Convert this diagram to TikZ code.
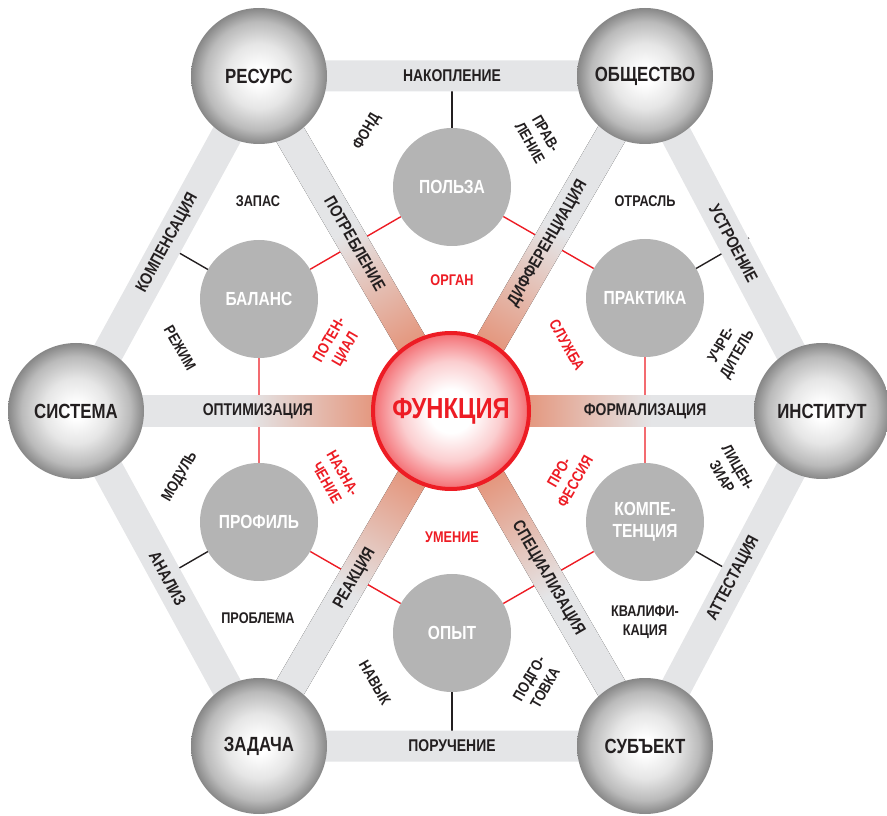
\documentclass[tikz,border=0pt]{standalone}
\usepackage{fontspec}
\setmainfont{Liberation Sans}[FakeStretch=0.82]
\usetikzlibrary{calc}
\definecolor{ink}{RGB}{35,31,32}
\definecolor{fred}{RGB}{237,28,36}
\definecolor{bandgrey}{RGB}{228,229,231}
\definecolor{bandred}{RGB}{228,150,125}
\definecolor{innergrey}{RGB}{180,180,180}
\pgfdeclareradialshading{sphere}{\pgfpoint{0bp}{0bp}}{color(0bp)=(white); color(3bp)=(white);
  color(12bp)=(black!10); color(20bp)=(black!27); color(25bp)=(black!47); color(50bp)=(black!47)}
\pgfdeclareradialshading{redglow}{\pgfpoint{0bp}{0bp}}{color(0bp)=(white); color(7bp)=(white);
  color(16bp)=(fred!22); color(22bp)=(fred!50); color(25bp)=(fred!65); color(50bp)=(fred!65)}
\pgfdeclarehorizontalshading{spoke}{100bp}{color(0bp)=(bandred); color(35bp)=(bandred);
  color(52bp)=(bandgrey); color(100bp)=(bandgrey)}
\pgfdeclarelayer{lines}
\pgfdeclarelayer{bands}
\pgfsetlayers{lines,bands,main}

\begin{document}
\begin{tikzpicture}[x=1pt,y=1pt,
  big/.style={circle,inner sep=0pt,minimum size=136pt,shading=sphere,text=ink,
              font=\bfseries\fontsize{20.5}{22}\selectfont},
  small/.style={circle,inner sep=0pt,minimum size=118pt,fill=innergrey,text=white,
              align=center,font=\bfseries\fontsize{19}{22}\selectfont},
  core/.style={circle,inner sep=0pt,minimum size=156pt,shading=redglow,draw=fred,
              line width=4pt,text=fred,font=\bfseries\fontsize{29}{32}\selectfont},
  band/.style={draw=bandgrey,line width=31pt,line join=round},
  bandlbl/.style={text=ink,inner sep=0pt,font=\bfseries\fontsize{17}{19}\selectfont},
  note/.style={text=ink,align=center,inner sep=0pt,
              font=\bfseries\fontsize{15.5}{18.5}\selectfont},
  rnote/.style={note,text=fred},
  redlink/.style={draw=fred,line width=1.4pt},
  tie/.style={draw=ink,line width=1.4pt}
]
\useasboundingbox (0,0) rectangle (887,815);

% outer ring
\node[big] (resurs)   at (259,739) {РЕСУРС};
\node[big] (obshch)   at (645,739) {ОБЩЕСТВО};
\node[big] (sistema)  at (76,404)  {СИСТЕМА};
\node[big] (institut) at (822,404) {ИНСТИТУТ};
\node[big] (zadacha)  at (259,69)  {ЗАДАЧА};
\node[big] (subekt)   at (645,69)  {СУБЪЕКТ};

% inner ring
\node[small] (polza)    at (452,628) {ПОЛЬЗА};
\node[small] (balans)   at (259,516) {БАЛАНС};
\node[small] (praktika) at (645,517) {ПРАКТИКА};
\node[small] (profil)   at (259,293) {ПРОФИЛЬ};
\node[small] (kompet)   at (645,293) {КОМПЕ-\\ТЕНЦИЯ};
\node[small] (opyt)     at (452,182) {ОПЫТ};

\node[core] (funk) at (451,404) {ФУНКЦИЯ};

\begin{pgfonlayer}{lines}
\draw[redlink] (polza) -- (praktika) -- (kompet) -- (opyt) -- (profil) -- (balans) -- (polza);
\draw[tie] (polza.center) -- ++(90:120);
\draw[tie] (balans.center) -- ++(150:120);
\draw[tie] (praktika.center) -- ++(30:120);
\draw[tie] (profil.center) -- ++(210:120);
\draw[tie] (kompet.center) -- ++(330:120);
\draw[tie] (opyt.center) -- ++(270:120);
\end{pgfonlayer}

\begin{pgfonlayer}{bands}
\draw[band] (resurs.center) -- (obshch.center) -- (institut.center) -- (subekt.center)
  -- (zadacha.center) -- (sistema.center) -- cycle;
\foreach \ang/\len in {120.2/386,59.9/387,180/375,0/371,239.8/386,300.1/387}
  \fill[shading=spoke,transform canvas={shift={(451,404)},rotate=\ang}]
    (0,-15.5) rectangle (\len,15.5);
\end{pgfonlayer}

% band labels
\path (resurs.center) -- (obshch.center) node[midway,sloped,bandlbl] {НАКОПЛЕНИЕ};
\path (zadacha.center) -- (subekt.center) node[midway,sloped,bandlbl] {ПОРУЧЕНИЕ};
\path (sistema.center) -- (resurs.center) node[midway,sloped,bandlbl] {КОМПЕНСАЦИЯ};
\path (obshch.center) -- (institut.center) node[midway,sloped,bandlbl] {УСТРОЕНИЕ};
\path (sistema.center) -- (zadacha.center) node[midway,sloped,bandlbl] {АНАЛИЗ};
\path (subekt.center) -- (institut.center) node[midway,sloped,bandlbl] {АТТЕСТАЦИЯ};
\path (resurs.center) -- (funk.center) node[midway,sloped,bandlbl] {ПОТРЕБЛЕНИЕ};
\path (obshch.center) -- (funk.center) node[midway,sloped,bandlbl] {ДИФФЕРЕНЦИАЦИЯ};
\path (sistema.center) -- (funk.center) node[pos=0.485,sloped,bandlbl] {ОПТИМИЗАЦИЯ};
\path (institut.center) -- (funk.center) node[pos=0.477,sloped,bandlbl] {ФОРМАЛИЗАЦИЯ};
\path (zadacha.center) -- (funk.center) node[midway,sloped,bandlbl] {РЕАКЦИЯ};
\path (subekt.center) -- (funk.center) node[midway,sloped,bandlbl] {СПЕЦИАЛИЗАЦИЯ};

% sector notes
\node[note,rotate=60]  (fond)    at (367,683) {ФОНД};
\node[note,rotate=-60] (pravl)   at (538,677) {ПРАВ-\\ЛЕНИЕ};
\node[note]            (zapas)   at (258,614) {ЗАПАС};
\node[note]            (otrasl)  at (645,614) {ОТРАСЛЬ};
\node[note,rotate=-60] (rezhim)  at (180,467) {РЕЖИМ};
\node[note,rotate=60]  (uchred)  at (730,465) {УЧРЕ-\\ДИТЕЛЬ};
\node[note,rotate=60]  (modul)   at (180,338) {МОДУЛЬ};
\node[note,rotate=-60] (licenz)  at (730,343) {ЛИЦЕН-\\ЗИАР};
\node[note]            (problema) at (258,197) {ПРОБЛЕМА};
\node[note]            (kvalif)  at (645,193) {КВАЛИФИ-\\КАЦИЯ};
\node[note,rotate=-60] (navyk)   at (375,132) {НАВЫК};
\node[note,rotate=60]  (podgot)  at (537,132) {ПОДГО-\\ТОВКА};

% red notes
\node[rnote]           (organ)   at (452,535) {ОРГАН};
\node[rnote,rotate=60] (potenc)  at (338,470) {ПОТЕН-\\ЦИАЛ};
\node[rnote,rotate=-60] (sluzhba) at (567,470) {СЛУЖБА};
\node[rnote,rotate=-60] (naznach) at (335,337) {НАЗНА-\\ЧЕНИЕ};
\node[rnote,rotate=60] (profes)  at (567,338) {ПРО-\\ФЕССИЯ};
\node[rnote]           (umenie)  at (452,278) {УМЕНИЕ};
\end{tikzpicture}
\end{document}
